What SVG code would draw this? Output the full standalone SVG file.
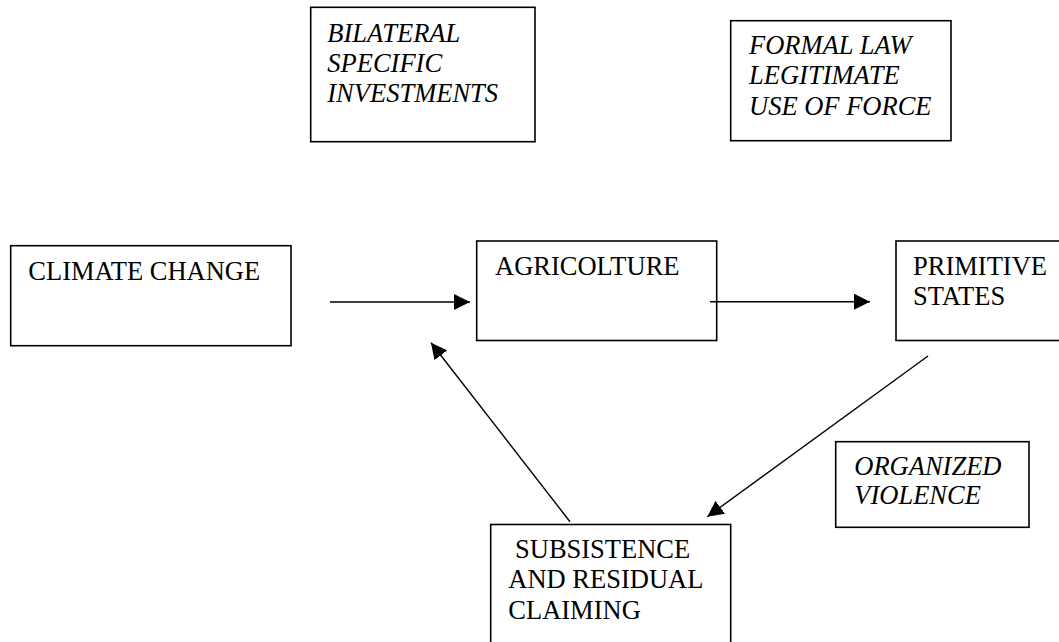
<svg xmlns="http://www.w3.org/2000/svg" width="1059" height="642" viewBox="0 0 1059 642">
<style>
.box{fill:#fff;stroke:#000;stroke-width:1.6}
text{font-family:"Times New Roman","Liberation Serif",Tinos,"DejaVu Serif",serif;font-size:26.5px;fill:#000}
.i{font-style:italic}
.c{stroke:#000;stroke-width:1.4;fill:none}
</style>
<defs>
<marker id="ah" markerUnits="userSpaceOnUse" markerWidth="16" markerHeight="16" refX="16" refY="8" orient="auto" viewBox="0 0 16 16">
<path d="M0,0 L16,8 L0,16 Z" fill="#000"/>
</marker>
</defs>
<rect width="1059" height="642" fill="#fff"/>
<g id="bilateral">
<rect class="box" x="310.7" y="7.3" width="224.3" height="134.4"/>
<text class="i" x="327.3" y="41.7">BILATERAL</text>
<text class="i" x="327.3" y="71.7">SPECIFIC</text>
<text class="i" x="327.3" y="101.7">INVESTMENTS</text>
</g>
<g id="formal-law">
<rect class="box" x="730.7" y="20.7" width="220.3" height="120"/>
<text class="i" x="749" y="54.3">FORMAL LAW</text>
<text class="i" x="749" y="84.3">LEGITIMATE</text>
<text class="i" x="749" y="115">USE OF FORCE</text>
</g>
<g id="climate-change">
<rect class="box" x="10.7" y="245.7" width="280.3" height="100"/>
<text x="28.3" y="280">CLIMATE CHANGE</text>
</g>
<g id="agricolture">
<rect class="box" x="476.7" y="241" width="240" height="99.5"/>
<text x="495" y="275">AGRICOLTURE</text>
</g>
<g id="primitive-states">
<rect class="box" x="896" y="241" width="200" height="99.5"/>
<text x="913" y="275">PRIMITIVE</text>
<text x="913" y="305">STATES</text>
</g>
<g id="organized-violence">
<rect class="box" x="835.7" y="441.7" width="193.3" height="85.6"/>
<text class="i" x="854.3" y="475">ORGANIZED</text>
<text class="i" x="854.3" y="504.3">VIOLENCE</text>
</g>
<g id="subsistence">
<rect class="box" x="490.7" y="524.5" width="240" height="140"/>
<text x="515" y="557.7">SUBSISTENCE</text>
<text x="508.3" y="588.3">AND RESIDUAL</text>
<text x="508.3" y="619.3">CLAIMING</text>
</g>
<g id="connectors">
<line class="c" x1="330" y1="302" x2="470" y2="302" marker-end="url(#ah)"/>
<line class="c" x1="710" y1="301.7" x2="870" y2="301.7" marker-end="url(#ah)"/>
<line class="c" x1="928" y1="356" x2="707.3" y2="516.7" marker-end="url(#ah)"/>
<line class="c" x1="570" y1="521.7" x2="431" y2="342.7" marker-end="url(#ah)"/>
</g>
</svg>
